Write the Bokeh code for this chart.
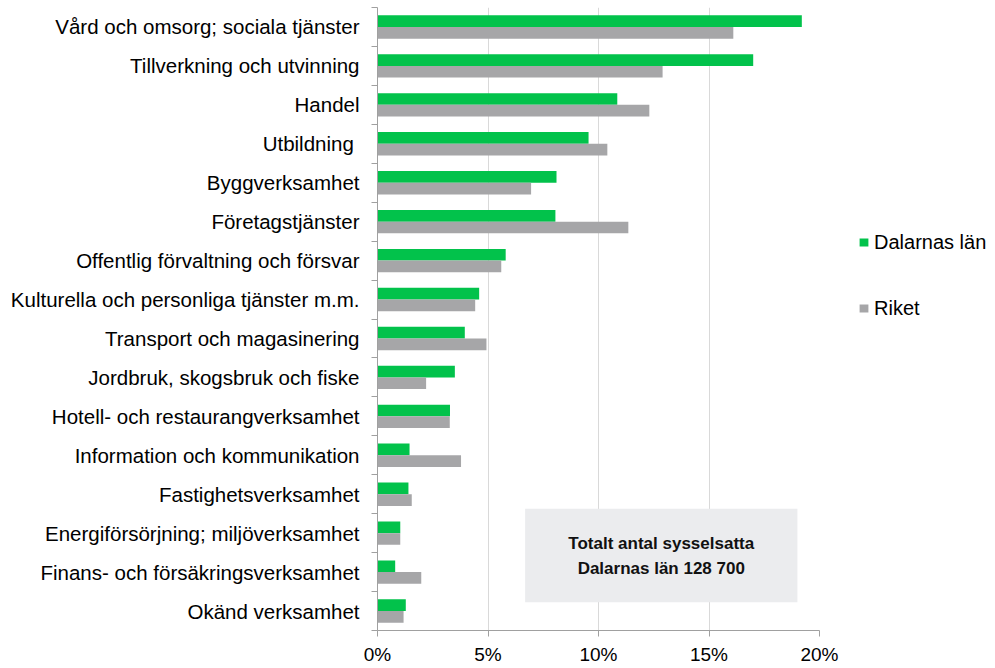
from bokeh.plotting import figure
from bokeh.models import (ColumnDataSource, FixedTicker, NumeralTickFormatter, Legend, LegendItem,
                          BoxAnnotation, Label, Range1d)
from bokeh.transform import dodge
from bokeh.embed import file_html
from bokeh.resources import INLINE

categories = [
    "Vård och omsorg; sociala tjänster",
    "Tillverkning och utvinning",
    "Handel",
    "Utbildning ",
    "Byggverksamhet",
    "Företagstjänster",
    "Offentlig förvaltning och försvar",
    "Kulturella och personliga tjänster m.m.",
    "Transport och magasinering",
    "Jordbruk, skogsbruk och fiske",
    "Hotell- och restaurangverksamhet",
    "Information och kommunikation",
    "Fastighetsverksamhet",
    "Energiförsörjning; miljöverksamhet",
    "Finans- och försäkringsverksamhet",
    "Okänd verksamhet",
]
dalarna = [19.2, 17.0, 10.85, 9.55, 8.1, 8.05, 5.8, 4.6, 3.95, 3.5, 3.28, 1.45, 1.4, 1.03, 0.8, 1.28]
riket = [16.1, 12.9, 12.3, 10.4, 6.95, 11.35, 5.6, 4.42, 4.93, 2.2, 3.27, 3.78, 1.55, 1.03, 1.98, 1.18]
x_ticks = [0, 0.05, 0.10, 0.15, 0.20]
series_names = ["Dalarnas län", "Riket"]
box_lines = ["Totalt antal sysselsatta", "Dalarnas län 128 700"]

GREEN = "#02C24B"
GRAY = "#A6A6A8"
FONT = "Liberation Sans"

n = len(categories)
ypos = [float(n - 1 - i) for i in range(n)]
src = ColumnDataSource(dict(
    y=ypos,
    dal=[v / 100 for v in dalarna],
    rik=[v / 100 for v in riket],
    cat=categories,
))

p = figure(width=995, height=668, frame_width=442, frame_height=623,
           output_backend="svg", toolbar_location=None,
           x_range=Range1d(0, 0.20), y_range=Range1d(-0.5, n - 0.5),
           min_border_left=377, min_border_top=7, min_border_bottom=38, min_border_right=176)
p.outline_line_color = None
p.background_fill_color = "white"
p.border_fill_color = "white"

r1 = p.hbar(y=dodge("y", 0.15, range=p.y_range), right="dal", left=0, height=0.3,
            source=src, fill_color=GREEN, line_color=None)
r2 = p.hbar(y=dodge("y", -0.15, range=p.y_range), right="rik", left=0, height=0.3,
            source=src, fill_color=GRAY, line_color=None)

# x axis
xa = p.xaxis[0]
xa.ticker = FixedTicker(ticks=x_ticks)
xa.formatter = NumeralTickFormatter(format="0%")
xa.major_label_text_font = FONT
xa.major_label_text_font_size = "19px"
xa.major_label_text_color = "#000000"
xa.axis_line_color = "#A0A0A0"
xa.major_tick_line_color = "#A0A0A0"
xa.major_tick_out = 6
xa.major_tick_in = 0
xa.minor_tick_line_color = None
xa.major_label_standoff = 7

# y axis
ya = p.yaxis[0]
ya.ticker = FixedTicker(ticks=ypos, minor_ticks=[i - 0.5 for i in range(n + 1)])
ya.major_label_overrides = {y: c for y, c in zip(ypos, categories)}
ya.major_label_text_font = FONT
ya.major_label_text_font_size = "20.5px"
ya.major_label_text_color = "#000000"
ya.axis_line_color = "#A0A0A0"
ya.major_tick_line_color = None
ya.major_tick_out = 0
ya.major_tick_in = 0
ya.minor_tick_line_color = "#A0A0A0"
ya.minor_tick_out = 6
ya.minor_tick_in = 0
ya.major_label_standoff = 12

p.xgrid.ticker = FixedTicker(ticks=x_ticks)
p.xgrid.grid_line_color = "#D9D9D9"
p.ygrid.grid_line_color = None

box = BoxAnnotation(left=0.0668, right=0.190, bottom=0.228, top=2.626,
                    fill_color="#EBECEE", fill_alpha=1.0, line_color=None)
p.add_layout(box)
for txt, yy in zip(box_lines, [1.728, 1.086]):
    p.add_layout(Label(x=0.1284, y=yy, text=txt, text_align="center", text_baseline="middle",
                       text_font=FONT, text_font_size="17px", text_font_style="bold",
                       text_color="#111111"))

legend = Legend(items=[LegendItem(label=series_names[0], renderers=[r1]),
                       LegendItem(label=series_names[1], renderers=[r2])],
                location=(39, 310), orientation="vertical")
legend.border_line_color = None
legend.background_fill_alpha = 0
legend.padding = 0
legend.margin = 0
legend.glyph_width = 11
legend.glyph_height = 10
legend.label_height = 24
legend.label_standoff = 5
legend.spacing = 42
legend.label_text_font = FONT
legend.label_text_font_size = "20px"
legend.label_text_color = "#000000"
p.add_layout(legend, "right")

open("out.html", "w").write(file_html(p, INLINE))
